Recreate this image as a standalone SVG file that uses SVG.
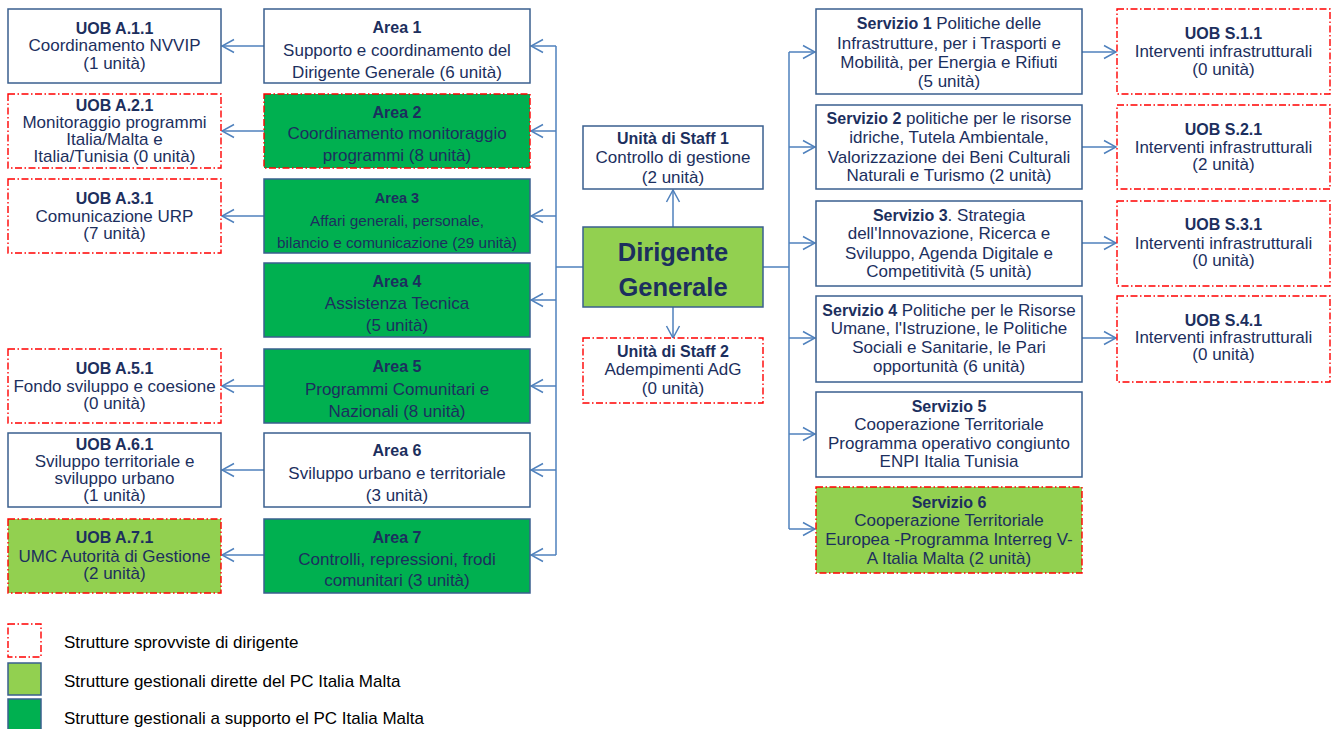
<svg xmlns="http://www.w3.org/2000/svg" width="1336" height="729" viewBox="0 0 1336 729">
<style>
.box{fill:#ffffff;stroke:#3A5F8F;stroke-width:1.5}
.dg{fill:#00B050;stroke:#3A5F8F;stroke-width:1.5}
.lg{fill:#92D050;stroke:#3A5F8F;stroke-width:1.5}
.rd{stroke:#FF0000;stroke-width:1.4;stroke-dasharray:7 2.5 1.5 2.5}
text{font-family:"Liberation Sans",Arial,sans-serif;fill:#1C2F5E;text-anchor:middle;font-size:17px}
.b{font-weight:bold;font-size:16px}
.s{font-size:15.3px}
.sb{font-weight:bold;font-size:14.5px}
.big{font-weight:bold;font-size:25.5px}
.leg{fill:#000000;text-anchor:start;font-size:17px}
.conn{fill:none;stroke:#4F81BD;stroke-width:1.5}
</style>
<defs>
<marker id="ah" markerUnits="userSpaceOnUse" markerWidth="14" markerHeight="16" viewBox="0 0 14 16" refX="13" refY="8" orient="auto">
<path d="M1,1.5 L13,8 L1,14.5" fill="none" stroke="#4F81BD" stroke-width="1.5"/>
</marker>
</defs>

<g id="connectors">
<path class="conn" d="M583,267 H556 M556,46 V555"/>
<path class="conn" d="M556,46 H531" marker-end="url(#ah)"/>
<path class="conn" d="M556,131 H531" marker-end="url(#ah)"/>
<path class="conn" d="M556,216 H531" marker-end="url(#ah)"/>
<path class="conn" d="M556,300 H531" marker-end="url(#ah)"/>
<path class="conn" d="M556,386 H531" marker-end="url(#ah)"/>
<path class="conn" d="M556,470 H531" marker-end="url(#ah)"/>
<path class="conn" d="M556,555 H531" marker-end="url(#ah)"/>
<path class="conn" d="M264,46 H222" marker-end="url(#ah)"/>
<path class="conn" d="M264,131 H222" marker-end="url(#ah)"/>
<path class="conn" d="M264,216 H222" marker-end="url(#ah)"/>
<path class="conn" d="M264,386 H222" marker-end="url(#ah)"/>
<path class="conn" d="M264,470 H222" marker-end="url(#ah)"/>
<path class="conn" d="M264,555 H222" marker-end="url(#ah)"/>
<path class="conn" d="M673,227 V190" marker-end="url(#ah)"/>
<path class="conn" d="M673,307 V338" marker-end="url(#ah)"/>
<path class="conn" d="M763,267 H789 M789,52 V529"/>
<path class="conn" d="M789,52 H815" marker-end="url(#ah)"/>
<path class="conn" d="M789,147 H815" marker-end="url(#ah)"/>
<path class="conn" d="M789,243 H815" marker-end="url(#ah)"/>
<path class="conn" d="M789,338 H815" marker-end="url(#ah)"/>
<path class="conn" d="M789,434 H815" marker-end="url(#ah)"/>
<path class="conn" d="M789,529 H815" marker-end="url(#ah)"/>
<path class="conn" d="M1082,52 H1116" marker-end="url(#ah)"/>
<path class="conn" d="M1082,147 H1116" marker-end="url(#ah)"/>
<path class="conn" d="M1082,243 H1116" marker-end="url(#ah)"/>
<path class="conn" d="M1082,338 H1116" marker-end="url(#ah)"/>
</g>

<g id="uoba11"><rect class="box" x="8" y="9" width="213" height="74"/>
<text class="b" x="114.5" y="34">UOB A.1.1</text><text x="114.5" y="51">Coordinamento NVVIP</text><text x="114.5" y="69">(1 unità)</text></g>
<g id="area1"><rect class="box" x="264" y="9" width="266" height="74"/>
<text class="b" x="397" y="33">Area 1</text><text x="397" y="55.5">Supporto e coordinamento del</text><text x="397" y="77.5">Dirigente Generale (6 unità)</text></g>

<g id="uoba21"><rect class="box rd" x="8" y="94" width="213" height="74"/>
<text class="b" x="114.5" y="110.5">UOB A.2.1</text><text x="114.5" y="127.5">Monitoraggio programmi</text><text x="114.5" y="144.5">Italia/Malta  e</text><text x="114.5" y="161.5">Italia/Tunisia  (0 unità)</text></g>
<g id="area2"><rect class="dg rd" x="264" y="94" width="266" height="74"/>
<text class="b" x="397" y="118">Area 2</text><text x="397" y="139">Coordinamento monitoraggio</text><text x="397" y="161">programmi (8 unità)</text></g>

<g id="uoba31"><rect class="box rd" x="8" y="179" width="213" height="74"/>
<text class="b" x="114.5" y="204">UOB A.3.1</text><text x="114.5" y="222">Comunicazione URP</text><text x="114.5" y="239">(7 unità)</text></g>
<g id="area3"><rect class="dg" x="264" y="179" width="266" height="74"/>
<text class="sb" x="397" y="202.5">Area 3</text><text class="s" x="397" y="225.5">Affari generali, personale,</text><text class="s" x="397" y="247.5">bilancio e comunicazione (29 unità)</text></g>

<g id="area4"><rect class="dg" x="264" y="263" width="266" height="74"/>
<text class="b" x="397" y="287">Area 4</text><text x="397" y="309">Assistenza Tecnica</text><text x="397" y="331">(5 unità)</text></g>

<g id="uoba51"><rect class="box rd" x="8" y="349" width="213" height="74"/>
<text class="b" x="114.5" y="374">UOB A.5.1</text><text x="114.5" y="392">Fondo sviluppo e coesione</text><text x="114.5" y="409">(0 unità)</text></g>
<g id="area5"><rect class="dg" x="264" y="349" width="266" height="74"/>
<text class="b" x="397" y="372">Area 5</text><text x="397" y="395">Programmi Comunitari  e</text><text x="397" y="417">Nazionali  (8 unità)</text></g>

<g id="uoba61"><rect class="box" x="8" y="433" width="213" height="74"/>
<text class="b" x="114.5" y="449.5">UOB A.6.1</text><text x="114.5" y="466.5">Sviluppo territoriale e</text><text x="114.5" y="483.5">sviluppo urbano</text><text x="114.5" y="500.5">(1 unità)</text></g>
<g id="area6"><rect class="box" x="264" y="433" width="266" height="74"/>
<text class="b" x="397" y="456">Area 6</text><text x="397" y="479">Sviluppo urbano e territoriale</text><text x="397" y="501">(3 unità)</text></g>

<g id="uoba71"><rect class="lg rd" x="8" y="519" width="213" height="74"/>
<text class="b" x="114.5" y="543">UOB A.7.1</text><text x="114.5" y="562">UMC Autorità di Gestione</text><text x="114.5" y="579">(2 unità)</text></g>
<g id="area7"><rect class="dg" x="264" y="519" width="266" height="74"/>
<text class="b" x="397" y="543">Area 7</text><text x="397" y="565">Controlli, repressioni, frodi</text><text x="397" y="586">comunitari (3 unità)</text></g>

<g id="staff1"><rect class="box" x="583" y="126" width="180" height="63"/>
<text class="b" x="673" y="144">Unità di Staff 1</text><text x="673" y="163">Controllo di gestione</text><text x="673" y="183">(2 unità)</text></g>
<g id="dirigente"><rect class="lg" x="583" y="227" width="180" height="80"/>
<text class="big" x="673" y="261">Dirigente</text><text class="big" x="673" y="296">Generale</text></g>
<g id="staff2"><rect class="box rd" x="583" y="338" width="180" height="65"/>
<text class="b" x="673" y="357">Unità di Staff 2</text><text x="673" y="375">Adempimenti AdG</text><text x="673" y="394">(0 unità)</text></g>

<g id="servizio1"><rect class="box" x="816" y="9" width="266" height="85"/>
<text x="949" y="29"><tspan class="b">Servizio 1</tspan> Politiche delle</text><text x="949" y="49">Infrastrutture, per i Trasporti e</text><text x="949" y="68">Mobilità, per Energia e Rifiuti</text><text x="949" y="87">(5 unità)</text></g>
<g id="servizio2"><rect class="box" x="816" y="105" width="266" height="84"/>
<text x="949" y="124"><tspan class="b">Servizio 2</tspan> politiche per le risorse</text><text x="949" y="143">idriche, Tutela Ambientale,</text><text x="949" y="163">Valorizzazione dei Beni Culturali</text><text x="949" y="181">Naturali e Turismo  (2 unità)</text></g>
<g id="servizio3"><rect class="box" x="816" y="201" width="266" height="85"/>
<text x="949" y="221"><tspan class="b">Servizio 3</tspan>. Strategia</text><text x="949" y="239">dell'Innovazione, Ricerca e</text><text x="949" y="259">Sviluppo, Agenda Digitale  e</text><text x="949" y="277">Competitività (5 unità)</text></g>
<g id="servizio4"><rect class="box" x="816" y="296" width="266" height="86"/>
<text x="949" y="316"><tspan class="b">Servizio 4</tspan> Politiche per le Risorse</text><text x="949" y="334">Umane, l'Istruzione, le Politiche</text><text x="949" y="353">Sociali e Sanitarie,  le Pari</text><text x="949" y="372">opportunità (6 unità)</text></g>
<g id="servizio5"><rect class="box" x="816" y="392" width="266" height="85"/>
<text class="b" x="949" y="412">Servizio 5</text><text x="949" y="430">Cooperazione Territoriale</text><text x="949" y="449">Programma operativo  congiunto</text><text x="949" y="467">ENPI Italia  Tunisia</text></g>
<g id="servizio6"><rect class="lg rd" x="816" y="487" width="266" height="86"/>
<text class="b" x="949" y="508">Servizio 6</text><text x="949" y="526">Cooperazione Territoriale</text><text x="949" y="545">Europea -Programma  Interreg V-</text><text x="949" y="564">A Italia Malta   (2 unità)</text></g>

<g id="uobs11"><rect class="box rd" x="1117" y="9" width="213" height="85"/>
<text class="b" x="1223.5" y="38.5">UOB S.1.1</text><text x="1223.5" y="57">Interventi infrastrutturali</text><text x="1223.5" y="74.5">(0 unità)</text></g>
<g id="uobs21"><rect class="box rd" x="1117" y="105" width="213" height="84"/>
<text class="b" x="1223.5" y="135">UOB S.2.1</text><text x="1223.5" y="153">Interventi infrastrutturali</text><text x="1223.5" y="170">(2 unità)</text></g>
<g id="uobs31"><rect class="box rd" x="1117" y="201" width="213" height="85"/>
<text class="b" x="1223.5" y="230">UOB S.3.1</text><text x="1223.5" y="249">Interventi infrastrutturali</text><text x="1223.5" y="266">(0 unità)</text></g>
<g id="uobs41"><rect class="box rd" x="1117" y="296" width="213" height="86"/>
<text class="b" x="1223.5" y="326">UOB S.4.1</text><text x="1223.5" y="343">Interventi infrastrutturali</text><text x="1223.5" y="360">(0 unità)</text></g>

<g id="legend">
<rect class="box rd" x="8" y="624" width="33" height="33"/>
<rect class="lg" x="8" y="663" width="33" height="32"/>
<rect class="dg" x="8" y="699" width="33" height="34"/>
<text class="leg" x="64" y="648">Strutture sprovviste di dirigente</text>
<text class="leg" x="64" y="687">Strutture gestionali  dirette del PC Italia  Malta</text>
<text class="leg" x="64" y="724">Strutture gestionali  a supporto el PC Italia Malta</text>
</g>
</svg>
